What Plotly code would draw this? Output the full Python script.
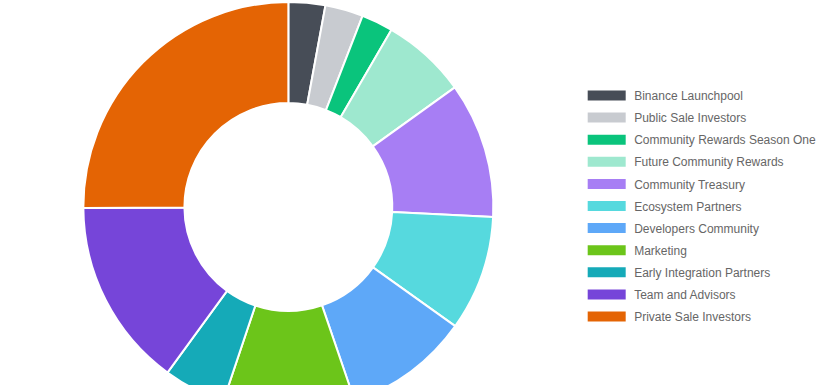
import plotly.graph_objects as go

labels = [
    "Binance Launchpool",
    "Public Sale Investors",
    "Community Rewards Season One",
    "Future Community Rewards",
    "Community Treasury",
    "Ecosystem Partners",
    "Developers Community",
    "Marketing",
    "Early Integration Partners",
    "Team and Advisors",
    "Private Sale Investors",
]
shares = [2.9, 3.0, 2.5, 6.7, 10.7, 9.1, 9.9, 10.4, 4.9, 14.9, 25.1]
colors = [
    "#474d57", "#c8cbd0", "#0ac47c", "#9ee8cf", "#a77ef4", "#56d9de",
    "#5ea8f8", "#6cc51a", "#15aab8", "#7645d9", "#e46404",
]

fig = go.Figure(go.Pie(
    labels=labels,
    values=shares,
    sort=False,
    direction="clockwise",
    rotation=0,
    hole=0.507,
    marker=dict(colors=colors, line=dict(color="#ffffff", width=2)),
    textinfo="none",
    hoverinfo="label+percent",
    domain=dict(x=[0.1009, 0.5973], y=[0, 1]),
))

fig.update_layout(
    width=826,
    height=412,
    margin=dict(l=0, r=0, t=2, b=0),
    paper_bgcolor="#ffffff",
    plot_bgcolor="#ffffff",
    showlegend=True,
    legend=dict(
        x=0.7012, xanchor="left",
        y=0.8073, yanchor="top",
        font=dict(family="Liberation Sans, Arial, sans-serif", size=12, color="#666666"),
        itemwidth=45,
        bgcolor="rgba(0,0,0,0)",
    ),
)

post = """
document.documentElement.style.overflow='hidden';
document.body.style.overflow='hidden';
document.body.style.margin='0';
var gd = document.getElementById('{plot_id}');
var sb = gd.querySelector('.legend .scrollbox');
if (sb) { sb.removeAttribute('clip-path'); }
var traces = gd.querySelectorAll('.legend .traces');
var y0 = null;
traces.forEach(function(t, i){
  var m = /translate\\(([-\\d.]+),\\s*([-\\d.]+)\\)/.exec(t.getAttribute('transform'));
  var x = m ? parseFloat(m[1]) : 0;
  var y = m ? parseFloat(m[2]) : 0;
  if (y0 === null) { y0 = y; }
  t.setAttribute('transform', 'translate(' + x + ',' + (y0 + i * 22.1) + ')');
  var p = t.querySelector('path.legendpie');
  if (p) { p.setAttribute('d', 'M-20,6H20V-6H-20Z'); }
});
"""

fig.write_html("out.html", post_script=post, config={"displayModeBar": False})
